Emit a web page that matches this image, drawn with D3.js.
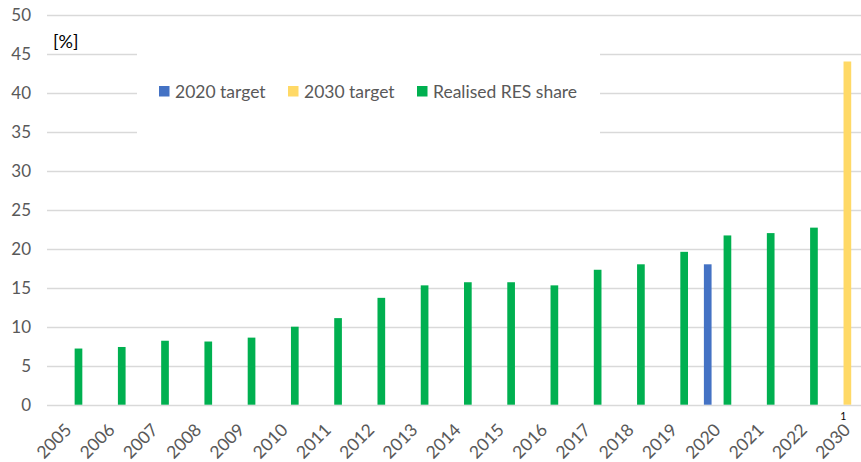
<!DOCTYPE html>
<html>
<head>
<meta charset="utf-8">
<script src="https://cdn.jsdelivr.net/npm/d3@7"></script>
<style>
  body { margin: 0; background: #fff; }
  svg { display: block; font-family: Lato, "Noto Sans", sans-serif; }
</style>
</head>
<body>
<script>
var width = 861;
var height = 462;

// categories (x axis)
var years = ["2005", "2006", "2007", "2008", "2009", "2010", "2011", "2012", "2013",
             "2014", "2015", "2016", "2017", "2018", "2019", "2020", "2021", "2022", "2030"];

// series values, one per category (null = no bar)
var target2020 = [null, null, null, null, null, null, null, null, null,
                  null, null, null, null, null, null, 18.0, null, null, null];
var target2030 = [null, null, null, null, null, null, null, null, null,
                  null, null, null, null, null, null, null, null, null, 44.0];
var realised   = [7.2, 7.4, 8.2, 8.1, 8.6, 10.0, 11.1, 13.7, 15.3,
                  15.7, 15.7, 15.3, 17.3, 18.0, 19.6, 21.7, 22.0, 22.7, null];

var yTicks = [0, 5, 10, 15, 20, 25, 30, 35, 40, 45, 50];

var series = [
  {key: "2020 target", values: target2020, color: "#4472C4"},
  {key: "2030 target", values: target2030, color: "#FFD966"},
  {key: "Realised RES share", values: realised, color: "#00B050"}
];

var svg = d3.select("body").append("svg")
  .attr("width", width)
  .attr("height", height);

// plot area runs a bit past the right edge like the original
var x = d3.scaleBand()
  .domain(years)
  .range([47, 869]);

var slot = 9.85;
var x1 = d3.scaleBand()
  .domain(series.map(function(s){ return s.key; }))
  .range([x.bandwidth() / 2 - 1.5 * slot, x.bandwidth() / 2 + 1.5 * slot])
  .paddingInner(0.22)
  .paddingOuter(0.11);

var y = d3.scaleLinear()
  .domain([0, 50])
  .range([404.7, 14.7]);

// gridlines
svg.append("g")
  .selectAll("line")
  .data(yTicks)
  .enter()
  .append("line")
  .attr("x1", 47)
  .attr("x2", width)
  .attr("y1", function(d){ return Math.round(y(d)) + 0.5; })
  .attr("y2", function(d){ return Math.round(y(d)) + 0.5; })
  .attr("stroke", "#d9d9d9")
  .attr("stroke-width", 1.3);

// y tick labels
svg.append("g")
  .selectAll("text")
  .data(yTicks)
  .enter()
  .append("text")
  .attr("x", 31)
  .attr("y", function(d){ return y(d); })
  .attr("dy", "0.36em")
  .attr("text-anchor", "end")
  .attr("fill", "#595959")
  .attr("font-size", 17)
  .text(function(d){ return d; });

// bars
var rows = [];
series.forEach(function(s){
  s.values.forEach(function(v, i){
    if (v != null) rows.push({year: years[i], key: s.key, value: v, color: s.color});
  });
});

svg.append("g")
  .selectAll("rect")
  .data(rows)
  .enter()
  .append("rect")
  .attr("x", function(d){ return x(d.year) + x1(d.key); })
  .attr("width", x1.bandwidth())
  .attr("y", function(d){ return y(d.value); })
  .attr("height", function(d){ return y(0) - y(d.value); })
  .attr("fill", function(d){ return d.color; });

// x labels, rotated
svg.append("g")
  .selectAll("text")
  .data(years)
  .enter()
  .append("text")
  .attr("transform", function(d){
    return "translate(" + (x(d) + x.bandwidth() / 2 + 4) + ",431) rotate(-45)";
  })
  .attr("text-anchor", "end")
  .attr("fill", "#595959")
  .attr("font-size", 17.5)
  .text(function(d){ return d; });

// footnote marker under 2030
svg.append("text")
  .attr("x", x("2030") + x.bandwidth() / 2 - 4)
  .attr("y", 419.5)
  .attr("text-anchor", "middle")
  .attr("fill", "#000")
  .attr("font-size", 10.5)
  .text("1");

// unit label
svg.append("text")
  .attr("x", 53)
  .attr("y", 48)
  .attr("fill", "#000")
  .attr("font-size", 18)
  .text("[%]");

// legend with white background
var legend = svg.append("g");
legend.append("rect")
  .attr("x", 137)
  .attr("y", 48)
  .attr("width", 463)
  .attr("height", 90)
  .attr("fill", "#fff");

var legendX = [159, 288, 417];
var item = legend.selectAll("g.item")
  .data(series)
  .enter()
  .append("g")
  .attr("class", "item")
  .attr("transform", function(d, i){ return "translate(" + legendX[i] + ",86)"; });

item.append("rect")
  .attr("width", 10.5)
  .attr("height", 10.5)
  .attr("fill", function(d){ return d.color; });

item.append("text")
  .attr("x", 16)
  .attr("y", 5.5)
  .attr("dy", "0.36em")
  .attr("fill", "#595959")
  .attr("font-size", 17.5)
  .text(function(d){ return d.key; });
</script>
</body>
</html>
